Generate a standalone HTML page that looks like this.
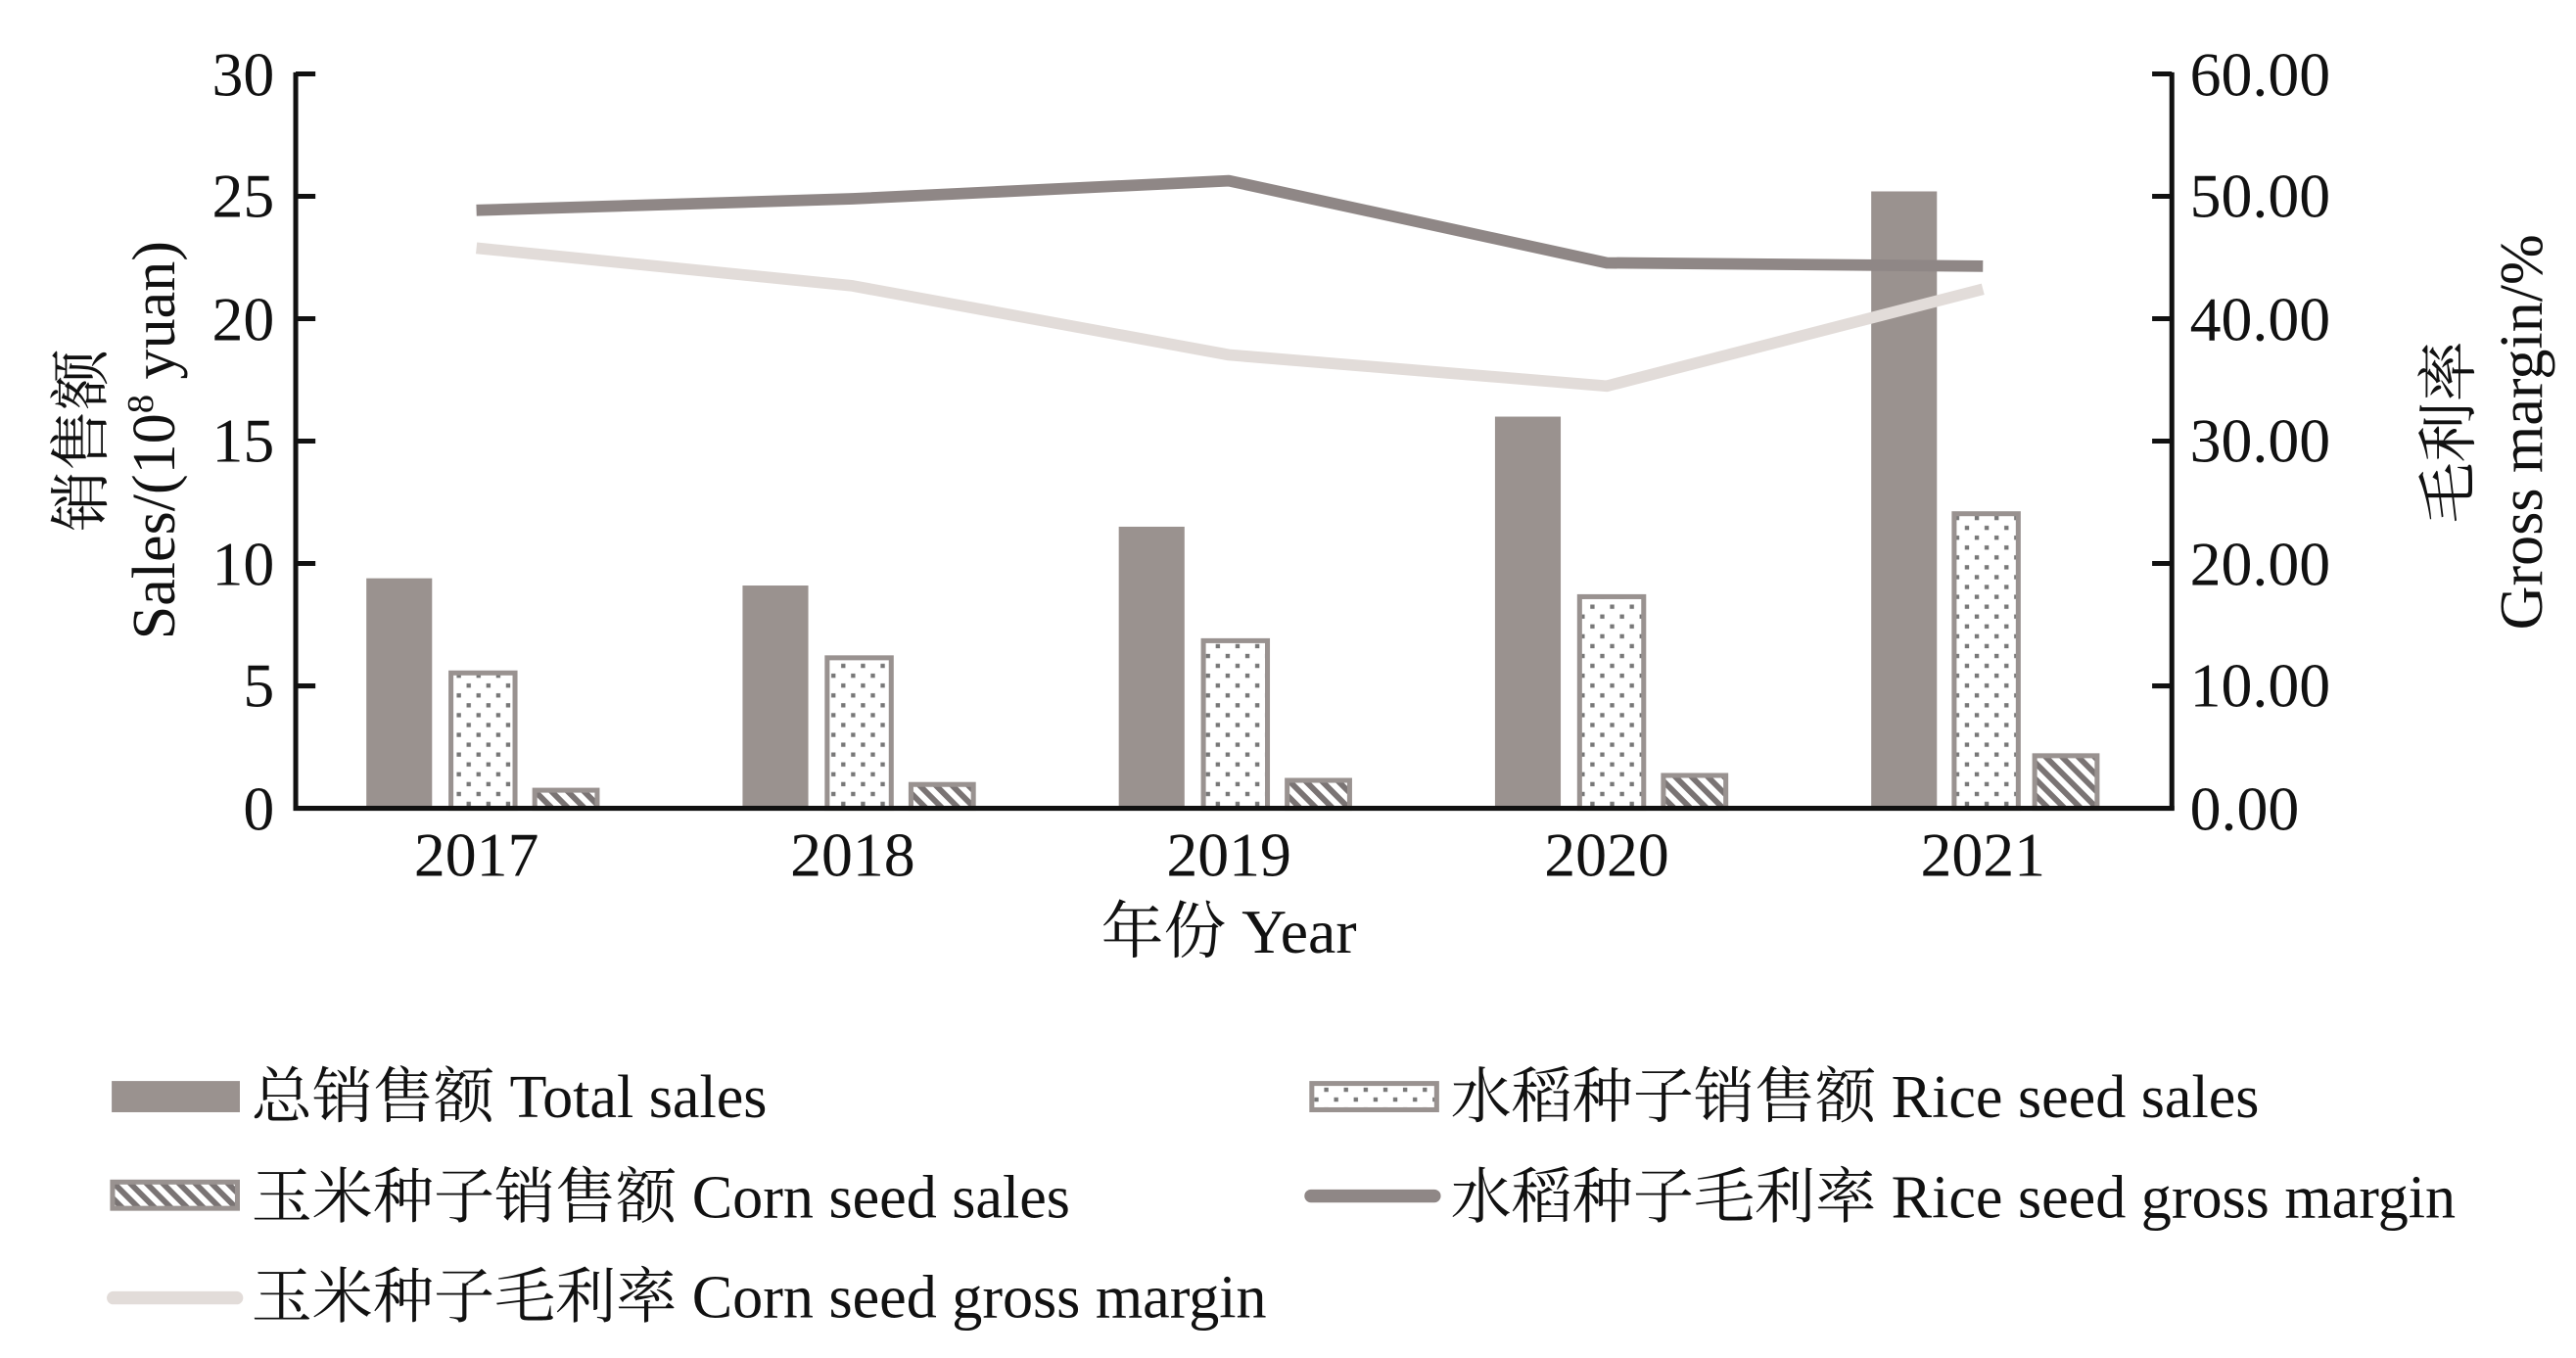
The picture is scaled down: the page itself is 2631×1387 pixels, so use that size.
<!DOCTYPE html>
<html><head><meta charset="utf-8"><style>
html,body{margin:0;padding:0;background:#fff;}
svg{display:block;}
text{font-family:"Liberation Serif","Noto Serif CJK SC",serif;fill:#111;}
</style></head><body>
<svg width="2631" height="1387" viewBox="0 0 1568 826.6" preserveAspectRatio="none">
<defs>
<pattern id="dots" width="12" height="12" patternUnits="userSpaceOnUse">
<rect width="12" height="12" fill="#fff"/>
<rect x="2" y="2" width="2.6" height="2.6" fill="#777"/>
<rect x="8" y="8" width="2.6" height="2.6" fill="#777"/>
</pattern>
<pattern id="hatch" width="7" height="7" patternUnits="userSpaceOnUse" patternTransform="rotate(-45)">
<rect width="7" height="7" fill="#fff"/>
<rect x="0" y="0" width="3.5" height="7" fill="#7a7474"/>
</pattern>
</defs>
<g stroke="#999290" stroke-width="3">
<rect x="223" y="352" width="40" height="140" fill="#9a928f" stroke="none"/>
<rect x="452" y="356.4" width="40" height="135.6" fill="#9a928f" stroke="none"/>
<rect x="681" y="320.6" width="40" height="171.4" fill="#9a928f" stroke="none"/>
<rect x="910" y="253.6" width="40" height="238.4" fill="#9a928f" stroke="none"/>
<rect x="1139" y="116.5" width="40" height="375.5" fill="#9a928f" stroke="none"/>
<rect x="274.5" y="409.6" width="39" height="82.4" fill="url(#dots)"/>
<rect x="503.5" y="400.4" width="39" height="91.6" fill="url(#dots)"/>
<rect x="732.5" y="390" width="39" height="102" fill="url(#dots)"/>
<rect x="961.5" y="363.2" width="39" height="128.8" fill="url(#dots)"/>
<rect x="1189.5" y="312.7" width="39" height="179.3" fill="url(#dots)"/>
<rect x="325.5" y="481" width="38" height="11" fill="url(#hatch)"/>
<rect x="554.5" y="477.5" width="38" height="14.5" fill="url(#hatch)"/>
<rect x="783.5" y="475" width="38" height="17" fill="url(#hatch)"/>
<rect x="1012.5" y="472" width="38" height="20" fill="url(#hatch)"/>
<rect x="1238.5" y="460" width="38" height="32" fill="url(#hatch)"/>
</g>
<polyline points="290,151 519,174 748,216 978,235 1207,176" fill="none" stroke="#e2dcd9" stroke-width="7" stroke-linejoin="round"/>
<polyline points="290,128 519,121 748,110 978,160 1207,162" fill="none" stroke="#8f8786" stroke-width="7" stroke-linejoin="round"/>
<g stroke="#111" stroke-width="3">
<line x1="180" y1="44" x2="180" y2="493"/>
<line x1="1322" y1="44" x2="1322" y2="493"/>
<line x1="178.5" y1="492" x2="1323.5" y2="492"/>
<line x1="180" y1="45" x2="192" y2="45"/><line x1="180" y1="119.5" x2="192" y2="119.5"/><line x1="180" y1="194" x2="192" y2="194"/><line x1="180" y1="268.5" x2="192" y2="268.5"/><line x1="180" y1="343" x2="192" y2="343"/><line x1="180" y1="417.5" x2="192" y2="417.5"/>
<line x1="1310" y1="45" x2="1322" y2="45"/><line x1="1310" y1="119.5" x2="1322" y2="119.5"/><line x1="1310" y1="194" x2="1322" y2="194"/><line x1="1310" y1="268.5" x2="1322" y2="268.5"/><line x1="1310" y1="343" x2="1322" y2="343"/><line x1="1310" y1="417.5" x2="1322" y2="417.5"/>
</g>
<g font-size="38" text-anchor="end">
<text x="167" y="58">30</text><text x="167" y="132">25</text><text x="167" y="207">20</text><text x="167" y="281">15</text><text x="167" y="356">10</text><text x="167" y="430">5</text><text x="167" y="505">0</text>
</g>
<g font-size="38" text-anchor="start">
<text x="1333" y="58">60.00</text><text x="1333" y="132">50.00</text><text x="1333" y="207">40.00</text><text x="1333" y="281">30.00</text><text x="1333" y="356">20.00</text><text x="1333" y="430">10.00</text><text x="1333" y="505">0.00</text>
</g>
<g font-size="38" text-anchor="middle">
<text x="290" y="533">2017</text><text x="519" y="533">2018</text><text x="748" y="533">2019</text><text x="978" y="533">2020</text><text x="1207" y="533">2021</text>
<text x="748" y="580">年份 Year</text>
</g>
<text font-size="37" text-anchor="middle" transform="translate(62,268) rotate(-90)">销售额</text>
<text font-size="37" text-anchor="middle" transform="translate(106,268) rotate(-90)">Sales/(10<tspan font-size="23" dy="-13">8</tspan><tspan dy="13"> yuan)</tspan></text>
<text font-size="37" text-anchor="middle" transform="translate(1503,263) rotate(-90)">毛利率</text>
<text font-size="37" text-anchor="middle" transform="translate(1547,263) rotate(-90)">Gross margin/%</text>
<rect x="68" y="658" width="78" height="19" fill="#9a928f"/>
<text x="153" y="680" font-size="37">总销售额 Total sales</text>
<rect x="798.5" y="659.5" width="76" height="16" fill="url(#dots)" stroke="#999290" stroke-width="3"/>
<text x="883" y="680" font-size="37">水稻种子销售额 Rice seed sales</text>
<rect x="68.5" y="719.5" width="76" height="16" fill="url(#hatch)" stroke="#999290" stroke-width="3"/>
<text x="153" y="741" font-size="37">玉米种子销售额 Corn seed sales</text>
<line x1="798" y1="728" x2="873" y2="728" stroke="#8f8786" stroke-width="8" stroke-linecap="round"/>
<text x="883" y="741" font-size="37">水稻种子毛利率 Rice seed gross margin</text>
<line x1="69" y1="790" x2="144" y2="790" stroke="#e2dcd9" stroke-width="8" stroke-linecap="round"/>
<text x="153" y="802" font-size="37">玉米种子毛利率 Corn seed gross margin</text>
</svg>
</body></html>
